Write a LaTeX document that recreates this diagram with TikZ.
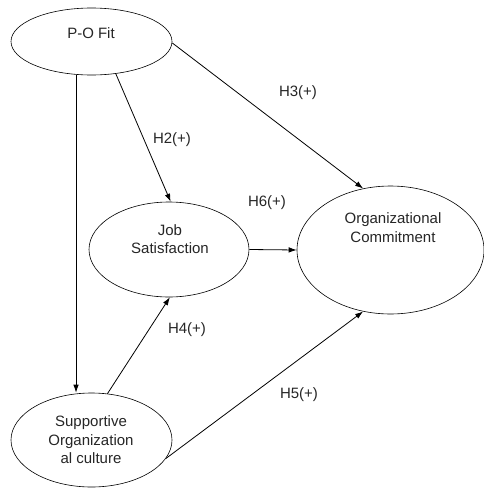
\documentclass[tikz,border=0pt]{standalone}
\usepackage{fontspec}
\setmainfont{Liberation Sans}
\usetikzlibrary{shapes.geometric,arrows.meta}
\begin{document}
\begin{tikzpicture}[x=1pt,y=-1pt,
  ell/.style={draw=black,line width=0.6pt,ellipse,inner sep=0pt},
  txt/.style={font=\fontsize{15}{18.5}\selectfont,text=black!85,inner sep=0pt,align=center},
  arr/.style={draw=black,line width=0.8pt,-{Latex[length=8pt,width=5.5pt]}},
  plain/.style={draw=black,line width=0.8pt}]
\fill[white] (0,0) rectangle (484,488);
\useasboundingbox (0,0) rectangle (484,488);
% ellipses
\node[ell,minimum width=161pt,minimum height=67pt] (po) at (91.5,41.5) {};
\node[ell,minimum width=160pt,minimum height=95pt] (js) at (169,249.5) {};
\node[ell,minimum width=187pt,minimum height=128pt] (oc) at (390.5,250) {};
\node[ell,minimum width=161pt,minimum height=94pt] (sc) at (91.5,440) {};
% texts
\node[txt] (tpo) at (91,33) {P-O Fit};
\node[txt] (tjs) at (170,239) {Job\\Satisfaction};
\node[txt] (toc) at (393,227.5) {Organizational\\Commitment};
\node[txt] (tsc) at (91,440) {Supportive\\Organization\\al culture};
% labels
\node[txt] (h2) at (172,140) {H2(+)};
\node[txt] (h3) at (298,93) {H3(+)};
\node[txt] (h6) at (267,203) {H6(+)};
\node[txt] (h4) at (187,330) {H4(+)};
\node[txt] (h5) at (299,395) {H5(+)};
% connectors
\draw[arr] (po.245) -- (po.245 |- sc.north);
\draw[arr] (po.307) -- (js.88);
\draw[arr] (po.359) -- (oc.114);
\draw[arr] (js.east) -- (oc.west);
\draw[arr] (sc.71) -- (js.271);
\draw[arr] (sc.346) -- (oc.246);
\end{tikzpicture}
\end{document}
